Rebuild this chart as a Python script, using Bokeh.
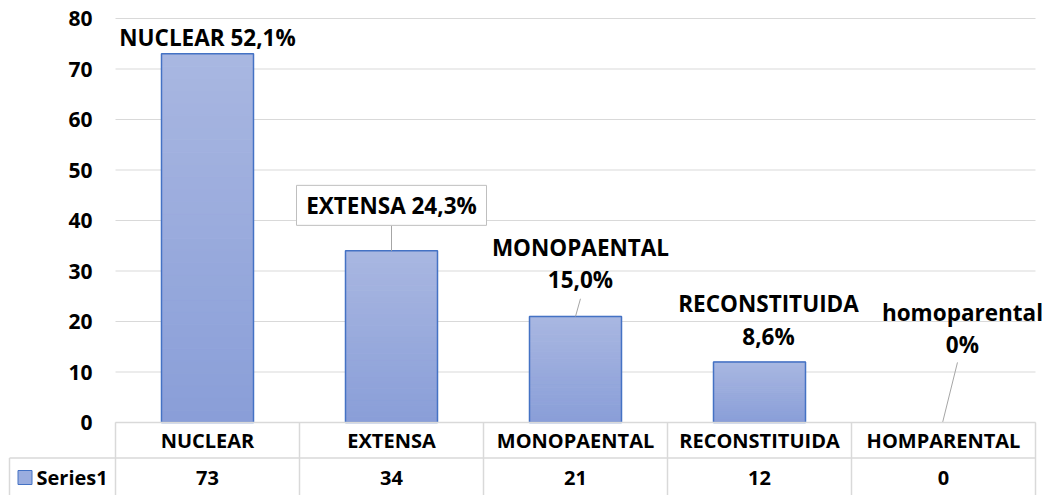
from bokeh.plotting import figure
from bokeh.models import Range1d
from bokeh.embed import file_html
from bokeh.resources import INLINE
from bokeh.core.properties import value

# ---------------- data ----------------
categories = ["NUCLEAR", "EXTENSA", "MONOPAENTAL", "RECONSTITUIDA", "HOMPARENTAL"]
values = [73, 34, 21, 12, 0]
data_labels = ["NUCLEAR 52,1%", "EXTENSA 24,3%", "MONOPAENTAL\n15,0%",
               "RECONSTITUIDA\n8,6%", "homoparental\n0%"]
y_ticks = [0, 10, 20, 30, 40, 50, 60, 70, 80]
y_tick_labels = ["0", "10", "20", "30", "40", "50", "60", "70", "80"]
series_name = "Series1"

# ---------------- style / layout ----------------
FONT = "Open Sans"
TXT = "#000000"
GRID = "#d9d9d9"
BAR_LINE = "#4472c4"
TOP_RGB = (169, 183, 225)
BOT_RGB = (137, 158, 216)
N_SLICES = 30

# label placement relative to bar centre (category units, value units)
lab_dx = [0.0, 0.0, 0.027, 0.049, 0.103]
lab_dy = [3.2, 9.0, 10.5, 8.3, 18.6]
# leader lines: (dx0, dy0, dx1, dy1) relative to bar top
leader = {1: (0.0, 0.0, 0.0, 5.0), 2: (0.0, 0.0, 0.027, 3.5), 4: (-0.005, 0.0, 0.076, 11.9)}

n = len(categories)
W, H = 1045, 495
PX_X = 184.0      # pixels per category
PX_Y = 5.05       # pixels per value unit
X0_PX, Y0_PX = 115, 422   # plot-area origin in pixels
x_lo, x_hi = -X0_PX / PX_X, (W - X0_PX) / PX_X
y_lo, y_hi = -(H - Y0_PX) / PX_Y, Y0_PX / PX_Y
row_split = -35.5 / PX_Y     # header / data-row boundary
hdr_y = -18 / PX_Y
row_y = -55 / PX_Y
tick_x = -23 / PX_X
key_left = -106 / PX_X

p = figure(width=W, height=H, x_range=Range1d(x_lo, x_hi), y_range=Range1d(y_lo, y_hi),
           output_backend="svg", toolbar_location=None, min_border=0)
p.outline_line_color = None
p.axis.visible = False
p.grid.visible = False

# horizontal gridlines + value-axis labels
p.segment(x0=[0] * len(y_ticks), y0=y_ticks, x1=[n] * len(y_ticks), y1=y_ticks,
          line_color=GRID, line_width=1)
p.text(x=[tick_x] * len(y_ticks), y=y_ticks, text=y_tick_labels, text_align="right",
       text_baseline="middle", text_font=value(FONT), text_font_style="bold",
       text_font_size="21px", text_color=TXT)

# gradient bars
xs = [i + 0.5 for i in range(n)]
half = 0.25
for i, v in enumerate(values):
    if v <= 0:
        continue
    lefts, rights, bots, tops, cols = [], [], [], [], []
    for k in range(N_SLICES):
        t = (k + 0.5) / N_SLICES
        c = tuple(int(round(BOT_RGB[j] + (TOP_RGB[j] - BOT_RGB[j]) * t)) for j in range(3))
        lefts.append(xs[i] - half)
        rights.append(xs[i] + half)
        bots.append(v * k / N_SLICES)
        tops.append(v * (k + 1) / N_SLICES)
        cols.append("#%02x%02x%02x" % c)
    p.quad(left=lefts, right=rights, bottom=bots, top=tops, fill_color=cols,
           line_color=cols, line_width=1)
nz = [i for i in range(n) if values[i] > 0]
p.quad(left=[xs[i] - half for i in nz], right=[xs[i] + half for i in nz],
       bottom=[0] * len(nz), top=[values[i] for i in nz], fill_color=None,
       line_color=BAR_LINE, line_width=1.5)

# leader lines
for i, (sx, sy, ex, ey) in leader.items():
    p.segment(x0=[xs[i] + sx], y0=[values[i] + sy], x1=[xs[i] + ex], y1=[values[i] + ey],
              line_color="#a6a6a6", line_width=1)

# box behind EXTENSA label
p.rect(x=[xs[1] + lab_dx[1]], y=[values[1] + lab_dy[1]], width=190, height=40,
       width_units="screen", height_units="screen", fill_color="white",
       line_color="#bfbfbf", line_width=1)

p.text(x=[xs[i] + lab_dx[i] for i in range(n)], y=[values[i] + lab_dy[i] for i in range(n)],
       text=data_labels, text_align="center", text_baseline="middle",
       text_font=value(FONT), text_font_style="bold", text_font_size="22.5px",
       text_color=TXT, text_line_height=1.05)

# data table
p.segment(x0=[0, key_left], y0=[0, row_split], x1=[n, n], y1=[0, row_split],
          line_color=GRID, line_width=1.5)
vx = list(range(n + 1))
p.segment(x0=vx, y0=[0] * len(vx), x1=vx, y1=[y_lo] * len(vx),
          line_color=GRID, line_width=1.5)
p.segment(x0=[key_left], y0=[row_split], x1=[key_left], y1=[y_lo],
          line_color=GRID, line_width=1.5)
p.text(x=xs, y=[hdr_y] * n, text=categories, text_align="center", text_baseline="middle",
       text_font=value(FONT), text_font_style="bold", text_font_size="20px", text_color=TXT)
p.text(x=xs, y=[row_y] * n, text=[str(v) for v in values], text_align="center",
       text_baseline="middle", text_font=value(FONT), text_font_style="bold",
       text_font_size="20px", text_color=TXT)

# legend key cell
p.scatter(x=[key_left + 15.5 / PX_X], y=[row_y], marker="square", size=14,
          fill_color="#9aaddf", line_color=BAR_LINE, line_width=1)
p.text(x=[key_left + 27 / PX_X], y=[row_y], text=[series_name], text_align="left",
       text_baseline="middle", text_font=value(FONT), text_font_style="bold",
       text_font_size="20px", text_color=TXT)

open("out.html", "w").write(file_html(p, INLINE))
